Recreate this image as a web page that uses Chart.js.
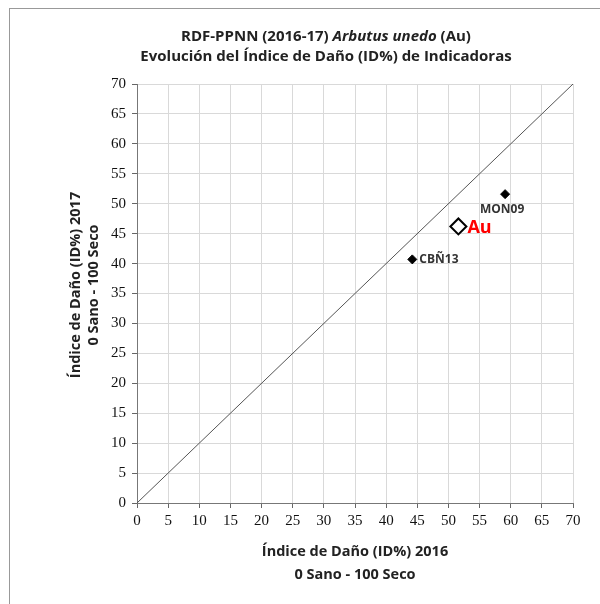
<!DOCTYPE html>
<html lang="es">
<head>
    <meta charset="UTF-8">
    <title>RDF-PPNN Arbutus unedo</title>
    <style>
        html, body { margin: 0; padding: 0; background: #fff; }
        #wrap { position: relative; width: 600px; height: 604px; }
        #frame { position: absolute; left: 9px; top: 8px; right: -2px; bottom: -2px; border-left: 1px solid #999; border-top: 1px solid #999; }
    </style>
</head>
<body>
    <div id="wrap">
        <div id="frame"></div>
        <canvas id="danoChart" width="600" height="604"></canvas>
    </div>

    <script src="https://cdn.jsdelivr.net/npm/chart.js"></script>
    <script>
        // Datos
        const codigos = ['CBÑ13', 'MON09'];
        const id2016 = [44.2, 59.1];
        const id2017 = [40.7, 51.6];
        const mediaAu = { x: 51.6, y: 46.2, label: 'Au' };
        const diagonal = [0, 70];
        const ticksEje = [0, 5, 10, 15, 20, 25, 30, 35, 40, 45, 50, 55, 60, 65, 70];
        const tituloX = ['Índice de Daño (ID%) 2016', '0 Sano - 100 Seco'];
        const tituloY = ['Índice de Daño (ID%) 2017', '0 Sano - 100 Seco'];

        const fuenteTitulo = "'Open Sans', 'Liberation Sans', sans-serif";
        const fuenteTicks = "'Liberation Serif', 'DejaVu Serif', serif";

        // Titulos (con parte en cursiva) + etiquetas de los puntos
        const etiquetas = {
            id: 'etiquetas',
            afterDraw(chart) {
                const c = chart.ctx;
                const xs = chart.scales.x, ys = chart.scales.y;
                const area = chart.chartArea;
                c.save();
                c.fillStyle = '#222';
                c.textBaseline = 'middle';

                // linea 1 del titulo
                const partes = [
                    { t: 'RDF-PPNN (2016-17) ', f: 'bold 15px ' + fuenteTitulo },
                    { t: 'Arbutus unedo', f: 'italic bold 15px ' + fuenteTitulo },
                    { t: ' (Au)', f: 'bold 15px ' + fuenteTitulo }
                ];
                let total = 0;
                partes.forEach(p => { c.font = p.f; total += c.measureText(p.t).width; });
                let x0 = 326 - total / 2;
                c.textAlign = 'left';
                partes.forEach(p => { c.font = p.f; c.fillText(p.t, x0, 37); x0 += c.measureText(p.t).width; });
                c.font = 'bold 15px ' + fuenteTitulo;
                c.textAlign = 'center';
                c.fillText('Evolución del Índice de Daño (ID%) de Indicadoras', 326, 57);

                // titulo eje X
                c.font = 'bold 14.5px ' + fuenteTitulo;
                const cx = (area.left + area.right) / 2;
                c.fillText(tituloX[0], cx, 552);
                c.fillText(tituloX[1], cx, 575);

                // titulo eje Y (girado)
                c.save();
                c.translate(0, 285);
                c.rotate(-Math.PI / 2);
                c.fillText(tituloY[0], 0, 76);
                c.fillText(tituloY[1], 0, 94);
                c.restore();

                // etiquetas de indicadoras
                c.font = 'bold 12px ' + fuenteTitulo;
                c.fillStyle = '#333';
                c.textAlign = 'left';
                c.fillText(codigos[0], xs.getPixelForValue(id2016[0]) + 7, ys.getPixelForValue(id2017[0]));
                c.textAlign = 'center';
                c.fillText(codigos[1], xs.getPixelForValue(id2016[1]) - 3, ys.getPixelForValue(id2017[1]) + 15);

                // etiqueta de la media
                c.font = 'bold 18px ' + fuenteTitulo;
                c.fillStyle = '#ff0000';
                c.textAlign = 'left';
                c.fillText(mediaAu.label, xs.getPixelForValue(mediaAu.x) + 9, ys.getPixelForValue(mediaAu.y) + 1);
                c.restore();
            }
        };

        const ctx = document.getElementById('danoChart').getContext('2d');
        const danoChart = new Chart(ctx, {
            type: 'scatter',
            data: {
                datasets: [
                    {
                        label: 'Diagonal',
                        type: 'line',
                        data: diagonal.map(v => ({ x: v, y: v })),
                        borderColor: '#555',
                        borderWidth: 1,
                        pointRadius: 0,
                        order: 3
                    },
                    {
                        label: 'Indicadoras',
                        data: codigos.map((c, i) => ({ x: id2016[i], y: id2017[i] })),
                        pointStyle: 'rectRot',
                        pointRadius: 4.5,
                        backgroundColor: '#000',
                        borderColor: '#000',
                        borderWidth: 1,
                        order: 1
                    },
                    {
                        label: 'Media Au',
                        data: [{ x: mediaAu.x, y: mediaAu.y }],
                        pointStyle: 'rectRot',
                        pointRadius: 8,
                        backgroundColor: '#fff',
                        borderColor: '#000',
                        borderWidth: 2,
                        order: 2
                    }
                ]
            },
            options: {
                responsive: false,
                animation: false,
                events: [],
                layout: { padding: { top: 84, right: 27, left: 0, bottom: 0 } },
                plugins: {
                    legend: { display: false },
                    title: { display: false },
                    tooltip: { enabled: false }
                },
                scales: {
                    x: {
                        type: 'linear',
                        min: 0,
                        max: 70,
                        afterBuildTicks: s => { s.ticks = ticksEje.map(v => ({ value: v })); },
                        afterFit: s => { s.height = 101; },
                        grid: { color: '#d9d9d9', tickColor: '#666', tickLength: 5 },
                        border: { color: '#777', width: 1 },
                        ticks: { color: '#111', padding: 4, maxRotation: 0, font: { family: fuenteTicks, size: 15 } }
                    },
                    y: {
                        type: 'linear',
                        min: 0,
                        max: 70,
                        afterBuildTicks: s => { s.ticks = ticksEje.map(v => ({ value: v })); },
                        afterFit: s => { s.width = 137; },
                        grid: { color: '#d9d9d9', tickColor: '#666', tickLength: 5 },
                        border: { color: '#777', width: 1 },
                        ticks: { color: '#111', padding: 6, font: { family: fuenteTicks, size: 15 } }
                    }
                }
            },
            plugins: [etiquetas]
        });
    </script>
</body>
</html>
